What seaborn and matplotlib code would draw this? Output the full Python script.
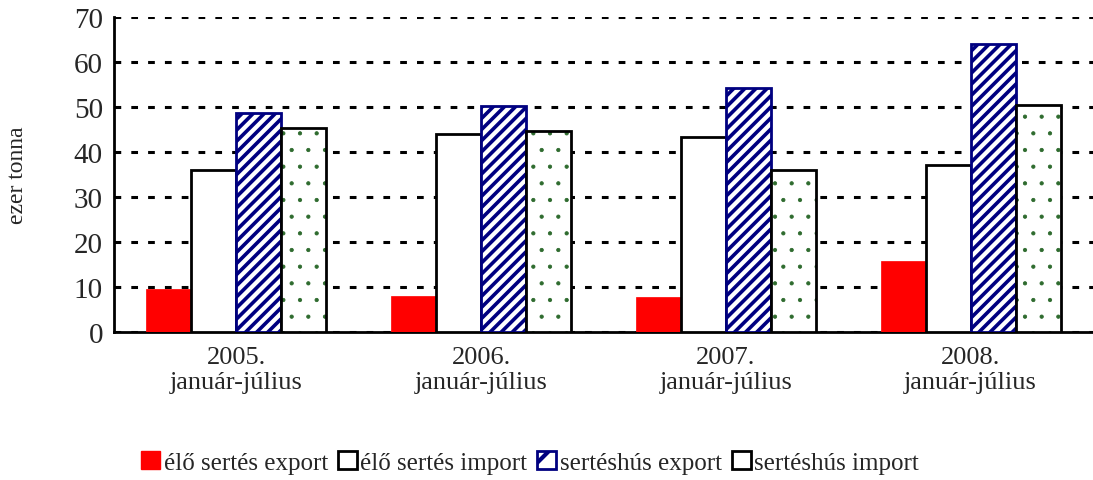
import pandas as pd
import seaborn as sns
import matplotlib.pyplot as plt
from matplotlib.patches import Rectangle, Patch

# data
periods = ["2005.\njanuár-július", "2006.\njanuár-július",
           "2007.\njanuár-július", "2008.\njanuár-július"]
series = ["élő sertés export", "élő sertés import",
          "sertéshús export", "sertéshús import"]
elo_export = [9.6, 8.0, 7.7, 15.8]
elo_import = [36.1, 44.0, 43.3, 37.1]
hus_export = [48.7, 50.3, 54.2, 64.0]
hus_import = [45.4, 44.6, 36.0, 50.5]

rows = []
for name, vals in zip(series, [elo_export, elo_import, hus_export, hus_import]):
    for p, v in zip(periods, vals):
        rows.append({"period": p, "series": name, "value": v})
df = pd.DataFrame(rows)

sns.set_style("white")
plt.rcParams['font.family'] = ['Liberation Serif', 'DejaVu Serif']
plt.rcParams['hatch.linewidth'] = 3.0

fig = plt.figure(figsize=(10.93, 4.81), dpi=100)
ax = fig.add_axes([0.1043, 0.3077, 0.8957, 0.6549])

palette = {series[0]: "#ff0000", series[1]: "white",
           series[2]: "white", series[3]: "white"}
sns.barplot(data=df, x="period", y="value", hue="series", palette=palette,
            width=0.735, gap=0, legend=False, ax=ax, zorder=3, saturation=1)


def set_hlw(p, lw):
    if hasattr(p, "set_hatch_linewidth"):
        p.set_hatch_linewidth(lw)
    else:
        p._hatch_linewidth = lw


n = len(periods)
for i, patch in enumerate(list(ax.patches)):
    s = i // n
    if s == 0:
        patch.set_edgecolor("#ff0000")
        patch.set_linewidth(0.5)
    elif s == 1:
        patch.set_edgecolor("black")
        patch.set_linewidth(2)
    elif s == 2:
        patch.set_edgecolor("#000080")
        patch.set_hatch("///")
        patch.set_linewidth(2)
        set_hlw(patch, 2.6)
    else:
        patch.set_edgecolor("#2e6b2e")
        patch.set_hatch(".")
        patch.set_linewidth(0)
        set_hlw(patch, 0.6)
        ax.add_patch(Rectangle(patch.get_xy(), patch.get_width(), patch.get_height(),
                               fill=False, edgecolor="black", linewidth=2, zorder=4))

ax.set_ylim(0, 70)
ax.set_xlim(-0.5, n - 0.5)
ax.set_yticks(range(0, 71, 10))
ax.yaxis.grid(True, color="black", linestyle=(0, (2.2, 3.3)), linewidth=2.2)
ax.set_axisbelow(True)
ax.set_xlabel("")
ax.set_ylabel("ezer tonna", fontsize=17)
ax.yaxis.set_label_coords(-0.088, 0.5)

for side in ["top", "right"]:
    ax.spines[side].set_visible(False)
for side in ["left", "bottom"]:
    ax.spines[side].set_linewidth(2)
    ax.spines[side].set_color("black")

ax.tick_params(axis="y", direction="inout", length=12, width=2, labelsize=21, pad=2)
ax.tick_params(axis="x", which="major", length=0, labelsize=19, pad=10)
ax.set_xticks([i + 0.5 for i in range(n - 1)], minor=True)
ax.tick_params(axis="x", which="minor", direction="out", length=10, width=2)
for lbl in ax.get_xticklabels():
    lbl.set_multialignment("center")
    lbl.set_linespacing(1.2)

handles = [
    Patch(facecolor="#ff0000", edgecolor="#ff0000"),
    Patch(facecolor="white", edgecolor="black", linewidth=2),
    Patch(facecolor="white", edgecolor="#000080", hatch="/", linewidth=2),
    Patch(facecolor="white", edgecolor="black", linewidth=2),
]
fig.legend(handles, series, loc="center", bbox_to_anchor=(0.485, 0.037), ncol=4,
           frameon=False, fontsize=18, handlelength=0.75, handleheight=0.75,
           handletextpad=0.15, columnspacing=0.4)

fig.savefig("out.png", dpi=100)
